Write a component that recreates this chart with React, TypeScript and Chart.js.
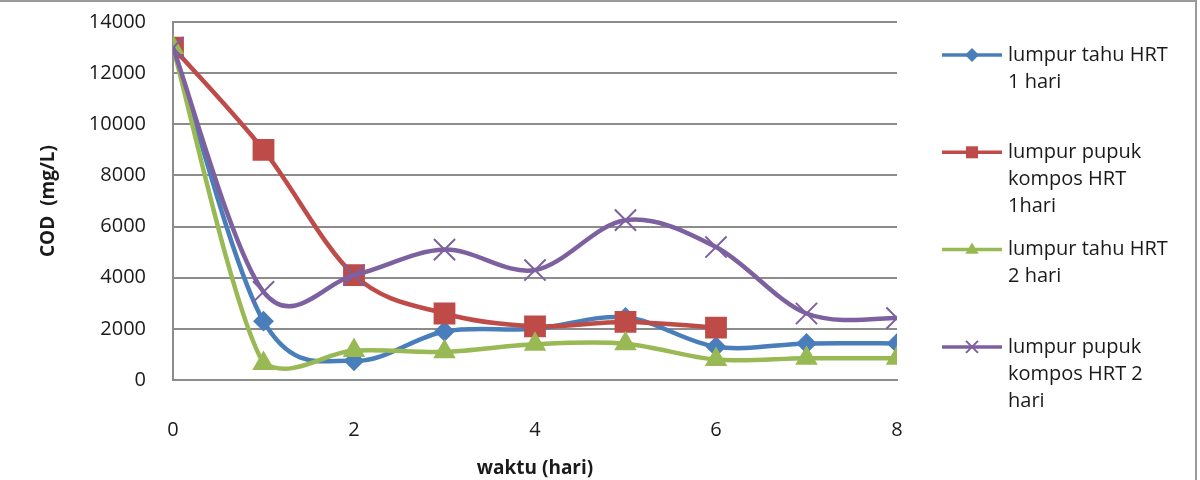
import React, { useEffect, useRef } from 'react';
import { Chart, registerables } from 'chart.js';

Chart.register(...registerables);

// ---- data ----
const days = [0, 1, 2, 3, 4, 5, 6, 7, 8];
const tahuHrt1 = [13000, 2300, 750, 1900, 2000, 2450, 1300, 1430, 1430];
const pupukHrt1 = [13000, 9000, 4100, 2600, 2100, 2270, 2050, null, null];
const tahuHrt2 = [13000, 650, 1150, 1100, 1400, 1420, 800, 850, 850];
const pupukHrt2 = [13000, 3450, 4100, 5100, 4300, 6250, 5200, 2600, 2420];

const seriesNames = [
  'lumpur tahu HRT 1 hari',
  'lumpur pupuk kompos HRT 1hari',
  'lumpur tahu HRT 2 hari',
  'lumpur pupuk kompos HRT 2 hari',
];
const legendLines = [
  ['lumpur tahu HRT', '1 hari'],
  ['lumpur pupuk', 'kompos HRT', '1hari'],
  ['lumpur tahu HRT', '2 hari'],
  ['lumpur pupuk', 'kompos HRT 2', 'hari'],
];
const colors = ['#4A7EBB', '#BE4B48', '#98B954', '#7D60A0'];
const markerStyles = ['rectRot', 'rect', 'triangle', 'crossRot'];
const markerRadius = [9, 14, 11, 15];

const xTitle = 'waktu (hari)';
const yTitle = 'COD  (mg/L)';
const yMax = 14000;
const yStep = 2000;
const xMax = 8;
const xStep = 2;

const FONT = "'Open Sans', 'DejaVu Sans', sans-serif";

function toPoints(vals: (number | null)[]) {
  return days.map((d, i) => ({ x: d, y: vals[i] }));
}

function drawMarker(ctx: CanvasRenderingContext2D, style: string, x: number, y: number, r: number, color: string) {
  ctx.save();
  ctx.fillStyle = color;
  ctx.strokeStyle = color;
  ctx.lineWidth = 2;
  ctx.beginPath();
  if (style === 'rectRot') {
    ctx.moveTo(x, y - r);
    ctx.lineTo(x + r, y);
    ctx.lineTo(x, y + r);
    ctx.lineTo(x - r, y);
    ctx.closePath();
    ctx.fill();
  } else if (style === 'rect') {
    ctx.rect(x - r, y - r, 2 * r, 2 * r);
    ctx.fill();
  } else if (style === 'triangle') {
    ctx.moveTo(x, y - r);
    ctx.lineTo(x + r * 0.95, y + r * 0.6);
    ctx.lineTo(x - r * 0.95, y + r * 0.6);
    ctx.closePath();
    ctx.fill();
  } else {
    ctx.moveTo(x - r, y - r);
    ctx.lineTo(x + r, y + r);
    ctx.moveTo(x + r, y - r);
    ctx.lineTo(x - r, y + r);
    ctx.stroke();
  }
  ctx.restore();
}

// Excel-style smoothing (Catmull-Rom, 1/6 factor) applied to the
// library-computed point positions before the line is drawn.
const smoothPlugin = {
  id: 'excelSmooth',
  beforeDatasetDraw(chart: any, args: any) {
    const meta = args.meta;
    const line = meta.dataset;
    if (!line) return;
    const area = chart.chartArea;
    const pts = meta.data.filter((p: any) => !p.skip);
    const n = pts.length;
    const clampY = (v: number) => Math.min(Math.max(v, area.top), area.bottom);
    for (let i = 0; i < n; i++) {
      const p = pts[i];
      const prev = pts[Math.max(0, i - 1)];
      const next = pts[Math.min(n - 1, i + 1)];
      const dx = (next.x - prev.x) / 6;
      const dy = (next.y - prev.y) / 6;
      p.cp1x = p.x - dx;
      p.cp1y = clampY(p.y - dy);
      p.cp2x = p.x + dx;
      p.cp2y = clampY(p.y + dy);
    }
    line._pointsUpdated = true;
  },
};

const decorPlugin = {
  id: 'decor',
  beforeDraw(chart: any) {
    const ctx = chart.ctx;
    ctx.save();
    ctx.fillStyle = '#ffffff';
    ctx.fillRect(0, 0, chart.width, chart.height);
    ctx.restore();
  },
  afterDraw(chart: any) {
    const ctx: CanvasRenderingContext2D = chart.ctx;
    // frame
    ctx.save();
    ctx.strokeStyle = '#9a9a9a';
    ctx.lineWidth = 2;
    ctx.beginPath();
    ctx.moveTo(0, 1);
    ctx.lineTo(1196, 1);
    ctx.lineTo(1196, 480);
    ctx.stroke();
    ctx.restore();

    // legend
    const lineX0 = 942;
    const lineX1 = 1002;
    const textX = 1008;
    const firstY = 55;
    const step = 97.3;
    const lh = 27;
    const legendR = [7, 6, 7, 6];
    ctx.save();
    ctx.font = `20px ${FONT}`;
    ctx.textBaseline = 'middle';
    ctx.textAlign = 'left';
    legendLines.forEach((lines, i) => {
      const y = firstY + i * step;
      ctx.strokeStyle = colors[i];
      ctx.lineWidth = 3.5;
      ctx.beginPath();
      ctx.moveTo(lineX0, y);
      ctx.lineTo(lineX1, y);
      ctx.stroke();
      drawMarker(ctx, markerStyles[i], (lineX0 + lineX1) / 2, y, legendR[i], colors[i]);
      ctx.fillStyle = '#1a1a1a';
      lines.forEach((t, j) => ctx.fillText(t, textX, y + j * lh));
    });
    ctx.restore();
  },
};

export default function App() {
  const ref = useRef<HTMLCanvasElement>(null);

  useEffect(() => {
    if (!ref.current) return;
    const seriesValues = [tahuHrt1, pupukHrt1, tahuHrt2, pupukHrt2];
    const chart = new Chart(ref.current, {
      type: 'line',
      data: {
        datasets: seriesValues.map((vals, i) => ({
          label: seriesNames[i],
          data: toPoints(vals),
          borderColor: colors[i],
          backgroundColor: colors[i],
          pointBackgroundColor: colors[i],
          pointBorderColor: colors[i],
          pointStyle: markerStyles[i] as any,
          pointRadius: markerRadius[i],
          pointBorderWidth: 2,
          borderWidth: 4.5,
          tension: 0.5,
          fill: false,
          order: 4 - i,
        })),
      },
      plugins: [smoothPlugin, decorPlugin],
      options: {
        responsive: false,
        animation: false,
        parsing: true,
        layout: { padding: { top: 22, right: 303, bottom: 0, left: 0 } },
        plugins: {
          legend: { display: false },
          tooltip: { enabled: false },
        },
        scales: {
          x: {
            type: 'linear',
            min: 0,
            max: xMax,
            ticks: {
              stepSize: xStep,
              padding: 30,
              color: '#1a1a1a',
              font: { family: FONT, size: 20 },
              maxRotation: 0,
            },
            grid: { display: false },
            border: { display: true, color: '#8c8c8c', width: 2 },
            title: {
              display: true,
              text: xTitle,
              color: '#1a1a1a',
              font: { family: FONT, size: 19, weight: 'bold' },
              padding: { top: 3, bottom: 0 },
            },
            afterFit: (s: any) => {
              s.height = 100;
              s.paddingLeft = 0;
              s.paddingRight = 0;
            },
          },
          y: {
            type: 'linear',
            min: 0,
            max: yMax,
            ticks: {
              stepSize: yStep,
              padding: 27,
              color: '#1a1a1a',
              font: { family: FONT, size: 20 },
              callback: (v: any) => String(v),
            },
            grid: { color: '#8c8c8c', lineWidth: 2, drawTicks: false },
            border: { display: true, color: '#8c8c8c', width: 2 },
            title: {
              display: true,
              text: yTitle,
              color: '#1a1a1a',
              font: { family: FONT, size: 19, weight: 'bold' },
              padding: { top: 37, bottom: 0 },
            },
            afterFit: (s: any) => {
              s.width = 173;
              s.paddingTop = 0;
              s.paddingBottom = 0;
            },
          },
        },
      },
    });
    return () => chart.destroy();
  }, []);

  return (
    <div style={{ position: 'fixed', left: 0, top: 0, width: 1200, height: 480, background: '#fff' }}>
      <canvas ref={ref} width={1200} height={480} style={{ display: 'block' }} />
    </div>
  );
}
